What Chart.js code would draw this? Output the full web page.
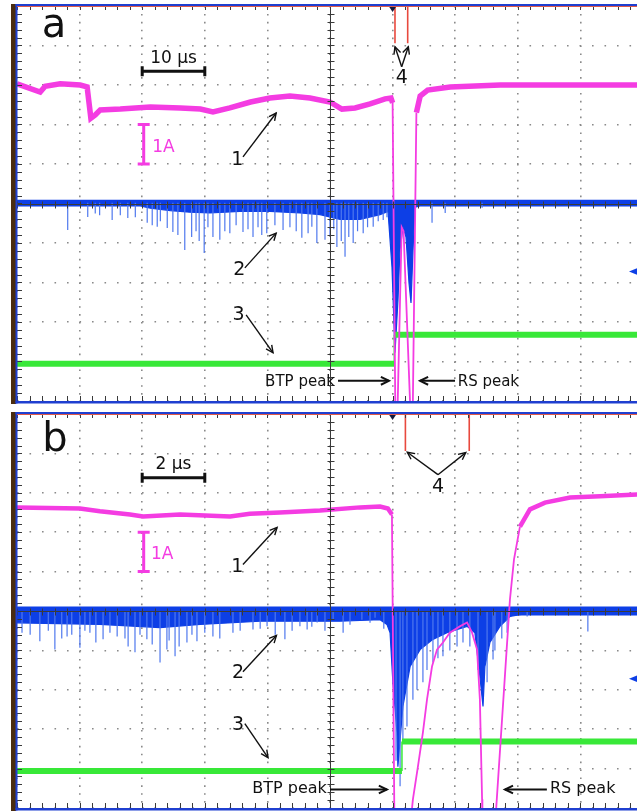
<!DOCTYPE html>
<html><head><meta charset="utf-8">
<script src="https://cdn.jsdelivr.net/npm/chart.js@4.4.1/dist/chart.umd.min.js"></script>
<style>
html,body{margin:0;padding:0;background:#fff;}
body{width:637px;height:811px;position:relative;overflow:hidden;}
canvas{position:absolute;left:0;}
</style></head><body>
<canvas id="ca" width="637" height="405" style="top:0"></canvas>
<canvas id="cb" width="637" height="405" style="top:406px"></canvas>
<script>
// ===== Panel a : 10 µs/div, time t in µs from trigger, vertical in screen divisions =====
const xTicksA = [-60,-50,-40,-30,-20,-10,0,10,20,30];
const yTicks = [-5,-4,-3,-2,-1,0,1,2,3,4,5];
// trace 1 (current, magenta)
const magA_t = [-60,-56.3,-55.5,-53.1,-49.9,-48.8,-48.2,-47.5,-46.7,-43.5,-38.7,-33.9,-30.7,-28.7,-26.0,-22.7,-19.6,-16.4,-13.2,-10.0,-8.1,-6.0,-3.6,-1.2,-0.26,0.0,0.45,0.75,1.45,1.75,2.9,3.2,3.8,4.4,5.6,9.2,17.2,25.1,39.1];
const magA_d = [3.03,2.82,2.97,3.03,3.0,2.95,2.16,2.24,2.37,2.39,2.44,2.42,2.39,2.32,2.42,2.57,2.67,2.72,2.67,2.57,2.39,2.42,2.52,2.65,2.67,2.55,-5.5,-5.5,-0.6,-0.7,-5.5,-5.5,2.3,2.72,2.87,2.95,3.0,3.0,3.0];
// trace 2 (blue): baseline level, lower envelope of dense noise, and single spikes
const blueA_level = 0.02;
const blueA_t = [-60,-40.3,-38.7,-35.5,-32.4,-29.2,-24.4,-19.6,-14.8,-11.6,-8.4,-5.2,-2.0,-0.73,-0.1,0.38,0.86,1.18,1.66,2.14,2.62,2.94,3.26,3.58,4.38,39.1];
const blueA_d = [-0.06,-0.06,-0.12,-0.18,-0.22,-0.24,-0.2,-0.2,-0.24,-0.28,-0.4,-0.4,-0.28,-0.2,-1.61,-3.78,-2.44,-1.18,-0.59,-0.85,-2.01,-2.52,-1.18,-0.09,-0.06,-0.06];
const spikeA_t = [-51.9,-48.7,-47.5,-46.8,-44.8,-43.5,-42.3,-41.1,-39.2,-38.4,-37.6,-37.1,-36.0,-35.1,-34.3,-33.2,-32.1,-31.4,-30.9,-30.1,-29.5,-28.7,-27.6,-26.8,-26.0,-25.0,-23.9,-23.1,-22.3,-21.5,-20.9,-20.1,-18.8,-17.5,-16.4,-15.4,-14.5,-13.5,-12.9,-12.1,-10.8,-10.0,-9.4,-8.9,-8.2,-7.6,-7.0,-6.3,-5.6,-4.7,-4.0,-3.1,-2.3,-1.5,-0.9,6.3,8.4,14.3];
const spikeA_d = [-0.67,-0.34,-0.25,-0.30,-0.42,-0.3,-0.37,-0.35,-0.49,-0.55,-0.59,-0.45,-0.62,-0.72,-0.8,-1.18,-0.85,-0.7,-0.95,-1.25,-0.6,-0.85,-0.92,-0.7,-0.75,-0.55,-0.72,-0.65,-0.85,-0.6,-0.8,-0.75,-0.55,-0.67,-0.6,-0.7,-0.87,-0.75,-0.59,-1.0,-0.92,-0.8,-0.65,-1.10,-0.95,-1.35,-0.85,-1.0,-0.7,-0.75,-0.6,-0.59,-0.45,-0.42,-0.35,-0.49,-0.24,-0.11];
// trace 3 (green)
const greenA_t = [-60,0.27,0.27,39.1];
const greenA_d = [-4.06,-4.06,-3.32,-3.32];
// trace 4 (red markers)
const redA_t = [0.38,2.41];
const redA_end = 4.06;

// ===== Panel b : 2 µs/div =====
const xTicksB = [-12,-10,-8,-6,-4,-2,0,2,4,6];
const magB_t = [-12.0,-9.99,-9.35,-8.39,-7.97,-6.79,-5.19,-4.56,-3.60,-2.32,-1.04,-0.40,-0.15,-0.02,0.06,0.56,0.65,0.81,0.97,1.10,1.26,1.42,1.61,1.83,2.15,2.38,2.54,2.70,2.79,2.86,2.87,3.27,3.75,3.88,4.07,4.39,4.87,5.67,6.63,7.82];
const magB_d = [2.63,2.60,2.53,2.45,2.40,2.45,2.40,2.47,2.50,2.55,2.63,2.65,2.60,2.45,-5.5,-5.5,-4.78,-3.95,-3.08,-2.25,-1.41,-0.98,-0.80,-0.55,-0.39,-0.29,-0.55,-0.98,-2.25,-4.78,-5.5,-5.5,0.29,1.31,2.14,2.58,2.75,2.88,2.91,2.96];
const blueB_level = 0.0;
const blueB_t = [-12.0,-9.35,-7.43,-6.15,-4.23,-2.96,-1.68,-0.40,-0.18,-0.08,0.01,0.14,0.17,0.24,0.33,0.56,0.88,1.29,1.74,2.38,2.63,2.79,2.89,2.95,3.11,3.43,3.75,4.30,7.82];
const blueB_d = [-0.3,-0.34,-0.42,-0.34,-0.26,-0.26,-0.26,-0.22,-0.34,-0.55,-1.81,-3.07,-3.95,-3.27,-2.42,-1.41,-0.98,-0.72,-0.55,-0.39,-0.55,-1.66,-2.42,-1.41,-0.80,-0.39,-0.14,-0.06,-0.06];
const spikeB_t = [-11.84,-11.58,-11.27,-11.0,-10.79,-10.57,-10.40,-10.25,-9.99,-9.83,-9.67,-9.48,-9.25,-9.03,-8.80,-8.55,-8.45,-8.23,-8.07,-7.85,-7.68,-7.43,-7.21,-7.14,-6.95,-6.82,-6.57,-6.41,-6.25,-6.0,-5.74,-5.52,-5.10,-4.87,-4.46,-4.23,-4.01,-3.75,-3.44,-3.21,-2.96,-2.73,-2.58,-2.41,-2.16,-1.90,-1.58,-1.36,-0.98,-0.72,-0.56,-0.28,0.11,0.24,0.33,0.46,0.65,0.78,0.97,1.10,1.29,1.45,1.61,1.83,2.06,2.25,2.47,2.73,3.02,3.21,3.27,3.49,3.66,4.30,6.24];
const spikeB_d = [-0.55,-0.6,-0.77,-0.5,-0.98,-0.7,-0.65,-0.6,-0.93,-0.5,-0.55,-0.8,-0.72,-0.55,-0.65,-0.7,-0.9,-1.05,-0.6,-0.72,-0.85,-1.31,-0.98,-0.75,-1.15,-0.9,-0.80,-0.6,-0.77,-0.55,-0.65,-0.7,-0.55,-0.5,-0.47,-0.45,-0.39,-0.6,-0.72,-0.5,-0.39,-0.47,-0.4,-0.29,-0.5,-0.22,-0.55,-0.35,-0.22,-0.3,-0.17,-0.45,-3.8,-4.45,-3.3,-2.93,-2.25,-2.0,-1.81,-1.5,-1.31,-1.2,-1.15,-1.0,-0.90,-0.8,-0.9,-1.5,-1.81,-1.23,-1.0,-0.7,-0.55,-0.14,-0.52];
const greenB_t = [-12.0,0.30,0.30,7.82];
const greenB_d = [-4.06,-4.06,-3.31,-3.31];
const redB_t = [0.41,2.45];
const redB_end = 4.06;

// ===== annotations (data coordinates) =====
const notesA = {
  letter: {t:-54.1, d:4.22, text:'a'},
  scale: {t0:-40, t1:-30, d:3.35, text:'10 μs', textD:3.56},
  amp: {t:-40, d0:1, d1:2, text:'1A', textT:-38.4, textD:1.30},
  labels: [
    {text:'1', t:-24.8, d:0.97, from:[-23.9,1.18], to:[-18.6,2.29]},
    {text:'2', t:-24.5, d:-1.81, from:[-23.6,-1.63], to:[-18.6,-0.75]},
    {text:'3', t:-24.6, d:-2.95, from:[-23.4,-2.82], to:[-19.1,-3.78]},
    {text:'4', t:1.45, d:3.05, from:[1.45,3.46], to:[0.38,3.97], to2:[2.51,3.97]}
  ],
  btp: {text:'BTP peak', tRight:-9.2, d:-4.62, from:[-8.72,-4.49], to:[-0.58,-4.49]},
  rs: {text:'RS peak', tLeft:10.4, d:-4.62, from:[9.97,-4.49], to:[4.38,-4.49]},
  peakFont: 15
};
const notesB = {
  letter: {t:-10.79, d:4.05, text:'b'},
  scale: {t0:-8, t1:-6, d:3.38, text:'2 μs', textD:3.60},
  amp: {t:-8, d0:1, d1:2, text:'1A', textT:-7.72, textD:1.31},
  labels: [
    {text:'1', t:-4.96, d:0.98, from:[-4.78,1.18], to:[-3.69,2.12]},
    {text:'2', t:-4.94, d:-1.69, from:[-4.78,-1.54], to:[-3.71,-0.62]},
    {text:'3', t:-4.94, d:-3.01, from:[-4.72,-2.86], to:[-3.98,-3.72]},
    {text:'4', t:1.45, d:3.03, from:[1.45,3.46], to:[0.47,4.03], to2:[2.34,4.02]}
  ],
  btp: {text:'BTP peak', tRight:-2.10, d:-4.63, from:[-2.0,-4.53], to:[-0.18,-4.53]},
  rs: {text:'RS peak', tLeft:5.03, d:-4.63, from:[4.93,-4.53], to:[3.59,-4.53]},
  peakFont: 16
};

const FONT = '"DejaVu Sans", Verdana, sans-serif';
const MAG = '#f43ce2', BLUE = '#0d3fe6', BLUE2 = '#4f78ee', GREEN = '#38e838', RED = '#e8493e';

function pts(ts, ds){ return ts.map((t,i)=>({x:t, y:ds[i]})); }
function spikes(ts, ds, base){ const o=[]; ts.forEach((t,i)=>{o.push({x:t,y:base},{x:t,y:ds[i]},{x:t,y:null});}); return o; }
function markers(ts, end){ const o=[]; ts.forEach(t=>{o.push({x:t,y:5},{x:t,y:end},{x:t,y:null});}); return o; }

function arrow(ctx, x0,y0,x1,y1, head){
  ctx.beginPath(); ctx.moveTo(x0,y0); ctx.lineTo(x1,y1); ctx.stroke();
  const a = Math.atan2(y1-y0, x1-x0), h = head||8;
  ctx.beginPath();
  ctx.moveTo(x1 - h*Math.cos(a-0.45), y1 - h*Math.sin(a-0.45));
  ctx.lineTo(x1,y1);
  ctx.lineTo(x1 - h*Math.cos(a+0.45), y1 - h*Math.sin(a+0.45));
  ctx.stroke();
}

function decor(notes, minorT, centerT){
  return {
    id:'decor',
    afterDatasetsDraw(chart){
      const ctx = chart.ctx, xs = chart.scales.x, ys = chart.scales.y, ca = chart.chartArea;
      const X = v=>xs.getPixelForValue(v), Y = v=>ys.getPixelForValue(v);
      ctx.save();
      ctx.strokeStyle = '#3a3a3a'; ctx.lineWidth = 1;
      const cx = Math.round(X(centerT))+0.5, cy = Math.round(Y(0))+0.5;
      ctx.beginPath(); ctx.moveTo(cx, ca.top); ctx.lineTo(cx, ca.bottom);
      ctx.moveTo(ca.left, cy); ctx.lineTo(ca.right, cy); ctx.stroke();
      ctx.beginPath();
      for (let d=-5; d<=5.001; d+=0.2){ const y=Math.round(Y(d))+0.5; ctx.moveTo(cx-3,y); ctx.lineTo(cx+4,y); ctx.moveTo(ca.left,y); ctx.lineTo(ca.left+5,y); }
      for (let t=xs.min; t<=xs.max+1e-6; t+=minorT){ const x=Math.round(X(t))+0.5; ctx.moveTo(x,cy-3); ctx.lineTo(x,cy+4); ctx.moveTo(x,ca.top); ctx.lineTo(x,ca.top+4); ctx.moveTo(x,ca.bottom); ctx.lineTo(x,ca.bottom-5); }
      ctx.stroke();
      ctx.fillStyle = '#141a3c';
      const tx = X(0);
      ctx.beginPath(); ctx.moveTo(tx-4, ca.top); ctx.lineTo(tx+4, ca.top); ctx.lineTo(tx, ca.top+6); ctx.closePath(); ctx.fill();
      ctx.fillStyle = BLUE;
      const my = Y(-1.72);
      ctx.beginPath(); ctx.moveTo(ca.right-8, my); ctx.lineTo(ca.right+2, my-4); ctx.lineTo(ca.right+2, my+4); ctx.closePath(); ctx.fill();

      ctx.fillStyle = '#111'; ctx.textAlign='center'; ctx.textBaseline='alphabetic';
      ctx.font = '40px '+FONT; ctx.fillText(notes.letter.text, X(notes.letter.t), Y(notes.letter.d));
      const s = notes.scale;
      ctx.font = '17px '+FONT; ctx.fillText(s.text, (X(s.t0)+X(s.t1))/2, Y(s.textD));
      ctx.strokeStyle='#111'; ctx.lineWidth=3;
      const sy=Y(s.d);
      ctx.beginPath(); ctx.moveTo(X(s.t0),sy); ctx.lineTo(X(s.t1),sy);
      ctx.moveTo(X(s.t0),sy-5); ctx.lineTo(X(s.t0),sy+5); ctx.moveTo(X(s.t1),sy-5); ctx.lineTo(X(s.t1),sy+5); ctx.stroke();
      const a = notes.amp, ax = X(a.t)+1.5;
      ctx.strokeStyle=MAG; ctx.lineWidth=3;
      ctx.beginPath(); ctx.moveTo(ax,Y(a.d0)); ctx.lineTo(ax,Y(a.d1));
      ctx.moveTo(ax-6,Y(a.d0)); ctx.lineTo(ax+6,Y(a.d0)); ctx.moveTo(ax-6,Y(a.d1)); ctx.lineTo(ax+6,Y(a.d1)); ctx.stroke();
      ctx.fillStyle=MAG; ctx.textAlign='left'; ctx.font='17px '+FONT;
      ctx.fillText(a.text, X(a.textT), Y(a.textD));
      ctx.fillStyle='#111'; ctx.strokeStyle='#111'; ctx.lineWidth=1.4; ctx.textAlign='center';
      ctx.font='19px '+FONT;
      notes.labels.forEach(l=>{
        ctx.fillText(l.text, X(l.t), Y(l.d));
        arrow(ctx, X(l.from[0]),Y(l.from[1]), X(l.to[0]),Y(l.to[1]), 8);
        if (l.to2) arrow(ctx, X(l.from[0]),Y(l.from[1]), X(l.to2[0]),Y(l.to2[1]), 8);
      });
      ctx.font = notes.peakFont+'px '+FONT; ctx.lineWidth=2;
      const b = notes.btp, r = notes.rs;
      ctx.textAlign='right'; ctx.fillText(b.text, X(b.tRight), Y(b.d));
      arrow(ctx, X(b.from[0]),Y(b.from[1]), X(b.to[0]),Y(b.to[1]), 9);
      ctx.textAlign='left'; ctx.fillText(r.text, X(r.tLeft), Y(r.d));
      arrow(ctx, X(r.from[0]),Y(r.from[1]), X(r.to[0]),Y(r.to[1]), 9);
      ctx.restore();
    },
    afterDraw(chart){
      const ctx = chart.ctx, ca = chart.chartArea;
      ctx.save();
      ctx.fillStyle = '#4a2c10';
      ctx.fillRect(ca.left-6, ca.top-2, 5, ca.bottom-ca.top+5);
      ctx.fillStyle = '#1f3fd0';
      ctx.fillRect(ca.left-1.5, ca.top-2, chart.width, 2);
      ctx.fillRect(ca.left-1.5, ca.top-2, 2, ca.bottom-ca.top+4.5);
      ctx.fillRect(ca.left-1.5, ca.bottom, chart.width, 2.5);
      ctx.fillStyle = '#e05a4a';
      ctx.fillRect(ca.left, ca.top, chart.width, 1);
      ctx.restore();
    }
  };
}

function build(id, o){
  const thin = (c, thr) => Math.min(c.p0.parsed.y, c.p1.parsed.y) < thr;
  const steep = c => Math.abs(c.p1.y-c.p0.y) > 2.5*Math.abs(c.p1.x-c.p0.x);
  const base = {pointRadius:0, tension:0, clip:0, spanGaps:false};
  new Chart(document.getElementById(id), {
    type:'line',
    data:{datasets:[
      Object.assign({label:'1', data:pts(o.magT,o.magD), borderColor:MAG, borderWidth:o.magW, order:0,
        segment:{borderWidth:c=>thin(c,o.thr)?1.8:o.magW}}, base),
      Object.assign({label:'4', data:markers(o.redT,o.redEnd), borderColor:RED, borderWidth:1.6, order:1}, base),
      Object.assign({label:'3', data:pts(o.grT,o.grD), borderColor:GREEN, borderWidth:6, order:2,
        segment:{borderWidth:c=>steep(c)?1.5:6}}, base),
      Object.assign({label:'2s', data:spikes(o.spT,o.spD,o.level), borderColor:BLUE2, borderWidth:1.2, order:3}, base),
      Object.assign({label:'2e', data:pts(o.blT,o.blD), borderColor:BLUE, backgroundColor:BLUE, borderWidth:1.2,
        fill:{value:o.level}, order:4}, base),
      Object.assign({label:'2', data:pts([o.xmin,o.xmax],[o.level,o.level]), borderColor:BLUE, borderWidth:o.blW, order:5}, base)
    ]},
    options:{
      responsive:false, animation:false, devicePixelRatio:1,
      layout:{padding:{left:17, right:0, top:o.padTop, bottom:o.padBottom}},
      plugins:{legend:{display:false}, tooltip:{enabled:false}},
      scales:{
        x:{type:'linear', min:o.xmin, max:o.xmax,
          afterBuildTicks:s=>{s.ticks=o.xTicks.map(v=>({value:v}));},
          ticks:{display:false}, grid:{color:'#8a8a8a', lineWidth:1.6, drawTicks:false},
          border:{display:false, dash:[1.6,6.3]}},
        y:{type:'linear', min:-5, max:5,
          afterBuildTicks:s=>{s.ticks=yTicks.map(v=>({value:v}));},
          ticks:{display:false}, grid:{color:'#8a8a8a', lineWidth:1.6, drawTicks:false},
          border:{display:false, dash:[1.6,10.9]}}
      }
    },
    plugins:[decor(o.notes, o.minorT, o.centerT)]
  });
}

build('ca', {magT:magA_t, magD:magA_d, magW:5.5, thr:1.9, redT:redA_t, redEnd:redA_end, grT:greenA_t, grD:greenA_d,
  spT:spikeA_t, spD:spikeA_d, level:blueA_level, blT:blueA_t, blD:blueA_d, blW:6,
  xmin:-60, xmax:39.04, xTicks:xTicksA, padTop:6, padBottom:4, notes:notesA, minorT:2, centerT:-10});
build('cb', {magT:magB_t, magD:magB_d, magW:4.5, thr:2.0, redT:redB_t, redEnd:redB_end, grT:greenB_t, grD:greenB_d,
  spT:spikeB_t, spD:spikeB_d, level:blueB_level, blT:blueB_t, blD:blueB_d, blW:9,
  xmin:-12, xmax:7.81, xTicks:xTicksB, padTop:8, padBottom:3, notes:notesB, minorT:0.4, centerT:-2});
</script></body></html>
